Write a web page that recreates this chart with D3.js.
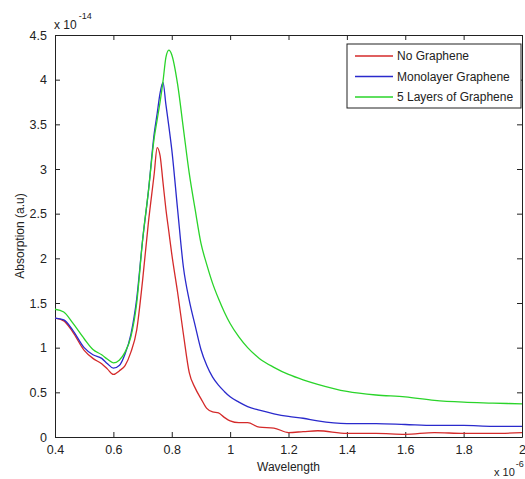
<!DOCTYPE html>
<html>
<head>
<meta charset="utf-8">
<script src="https://cdn.jsdelivr.net/npm/d3@7"></script>
<style>
    body { margin: 0; background: #fff; }
    svg { font-family: "Liberation Sans", Arial, sans-serif; }
</style>
</head>
<body>
<div id="chart"></div>
<script>
// wavelength (x 1e-6) and absorption (x 1e-14)
const wavelength = [0.40, 0.43, 0.46, 0.50, 0.53, 0.56, 0.58, 0.60, 0.62, 0.64, 0.66, 0.68, 0.70, 0.72, 0.74, 0.75, 0.76, 0.77, 0.78, 0.79, 0.80, 0.82, 0.84, 0.86, 0.88, 0.90, 0.92, 0.94, 0.96, 0.98, 1.00, 1.03, 1.06, 1.10, 1.15, 1.20, 1.25, 1.30, 1.40, 1.50, 1.60, 1.70, 1.80, 1.90, 2.00];
const noGraphene = [1.33, 1.30, 1.18, 0.97, 0.88, 0.82, 0.76, 0.70, 0.74, 0.80, 0.95, 1.20, 1.75, 2.40, 2.95, 3.24, 3.15, 2.85, 2.55, 2.30, 2.05, 1.62, 1.15, 0.72, 0.55, 0.43, 0.32, 0.28, 0.27, 0.22, 0.18, 0.16, 0.16, 0.11, 0.10, 0.05, 0.06, 0.07, 0.04, 0.04, 0.03, 0.05, 0.04, 0.04, 0.05];
const monolayer = [1.33, 1.31, 1.20, 1.00, 0.92, 0.88, 0.82, 0.77, 0.80, 0.93, 1.15, 1.55, 2.20, 2.75, 3.40, 3.62, 3.85, 3.97, 3.72, 3.48, 3.22, 2.55, 1.90, 1.53, 1.25, 0.98, 0.80, 0.67, 0.58, 0.51, 0.45, 0.39, 0.34, 0.30, 0.26, 0.23, 0.21, 0.18, 0.15, 0.15, 0.14, 0.13, 0.13, 0.12, 0.12];
const fiveLayers = [1.43, 1.40, 1.28, 1.10, 0.98, 0.92, 0.87, 0.83, 0.86, 0.95, 1.12, 1.50, 2.20, 2.75, 3.35, 3.55, 3.75, 3.98, 4.25, 4.33, 4.28, 3.95, 3.45, 2.95, 2.55, 2.17, 1.93, 1.72, 1.55, 1.40, 1.27, 1.12, 1.00, 0.88, 0.78, 0.70, 0.64, 0.59, 0.51, 0.47, 0.45, 0.41, 0.39, 0.38, 0.37];

const seriesNames = ["No Graphene", "Monolayer Graphene", "5 Layers of Graphene"];
const seriesColours = ["#d42a2a", "#2a2acc", "#2ad42a"];
const xTicks = [0.4, 0.6, 0.8, 1, 1.2, 1.4, 1.6, 1.8, 2];
const yTicks = [0, 0.5, 1, 1.5, 2, 2.5, 3, 3.5, 4, 4.5];

// plot box
const margin = {top: 35, right: 3, bottom: 42, left: 55};
const W = 525, H = 479;
const width = W - margin.left - margin.right;
const height = H - margin.top - margin.bottom;

const svg = d3.select("#chart")
    .append("svg")
    .attr("width", W)
    .attr("height", H);

const g = svg.append("g")
    .attr("transform", `translate(${margin.left},${margin.top})`);

const x = d3.scaleLinear().domain([0.4, 2]).range([0, width]);
const y = d3.scaleLinear().domain([0, 4.5]).range([height, 0]);

// axes, matlab style: ticks pointing inwards on all four sides
const tickLen = 5;
g.append("g")
    .attr("transform", `translate(0,${height})`)
    .call(d3.axisBottom(x).tickValues(xTicks).tickSizeInner(-tickLen).tickSizeOuter(0).tickPadding(8).tickFormat(d3.format("")));
g.append("g")
    .call(d3.axisLeft(y).tickValues(yTicks).tickSizeInner(-tickLen).tickSizeOuter(0).tickPadding(8).tickFormat(d3.format("")));
g.append("g")
    .call(d3.axisTop(x).tickValues(xTicks).tickSizeInner(-tickLen).tickSizeOuter(0).tickFormat(""));
g.append("g")
    .attr("transform", `translate(${width},0)`)
    .call(d3.axisRight(y).tickValues(yTicks).tickSizeInner(-tickLen).tickSizeOuter(0).tickFormat(""));

g.selectAll(".domain").attr("stroke", "#222");
g.selectAll(".tick line").attr("stroke", "#222");
g.selectAll(".tick text")
    .style("font-size", "12.5px")
    .attr("fill", "#222");

// curves
const line = d3.line()
    .x((d, i) => x(wavelength[i]))
    .y(d => y(d))
    .curve(d3.curveMonotoneX);

[noGraphene, monolayer, fiveLayers].forEach((s, k) => {
    g.append("path")
        .datum(s)
        .attr("fill", "none")
        .attr("stroke", seriesColours[k])
        .attr("stroke-width", 1.3)
        .attr("d", line);
});

// legend
const legend = g.append("g")
    .attr("transform", `translate(${347 - margin.left},${44 - margin.top})`);
legend.append("rect")
    .attr("width", 174)
    .attr("height", 64)
    .attr("fill", "#fff")
    .attr("stroke", "#222");
seriesNames.forEach((name, k) => {
    const ly = 12 + k * 20.5;
    legend.append("line")
        .attr("x1", 8).attr("x2", 46)
        .attr("y1", ly).attr("y2", ly)
        .attr("stroke", seriesColours[k])
        .attr("stroke-width", 1.3);
    legend.append("text")
        .attr("x", 50)
        .attr("y", ly + 4)
        .style("font-size", "12px")
        .attr("fill", "#222")
        .text(name);
});

// axis labels
svg.append("text")
    .attr("x", margin.left + width / 2)
    .attr("y", 471)
    .attr("text-anchor", "middle")
    .style("font-size", "12px")
    .attr("fill", "#222")
    .text("Wavelength");

svg.append("text")
    .attr("transform", `translate(24,${margin.top + height / 2}) rotate(-90)`)
    .attr("text-anchor", "middle")
    .style("font-size", "12px")
    .attr("fill", "#222")
    .text("Absorption (a.u)");

// exponent multipliers
const expTop = svg.append("text")
    .attr("x", 54)
    .attr("y", 29)
    .style("font-size", "12px")
    .attr("fill", "#222");
expTop.append("tspan").text("x 10");
expTop.append("tspan").attr("dy", -10).attr("dx", 2).style("font-size", "9px").text("-14");

const expBottom = svg.append("text")
    .attr("x", 494)
    .attr("y", 476)
    .style("font-size", "11px")
    .attr("fill", "#222");
expBottom.append("tspan").text("x 10");
expBottom.append("tspan").attr("dy", -9).attr("dx", 1).style("font-size", "9px").text("-6");
</script>
</body>
</html>
